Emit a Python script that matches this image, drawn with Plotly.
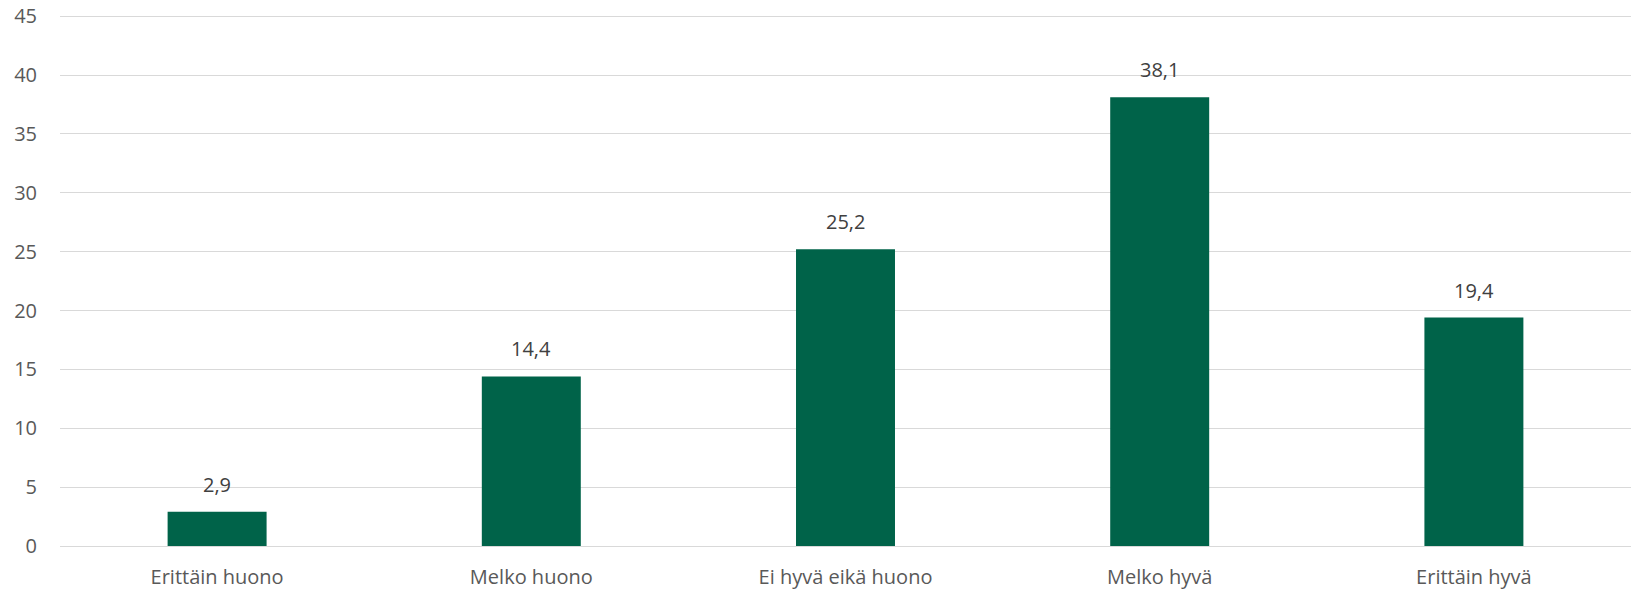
import plotly.graph_objects as go

categories = ["Erittäin huono", "Melko huono", "Ei hyvä eikä huono", "Melko hyvä", "Erittäin hyvä"]
values = [2.9, 14.4, 25.2, 38.1, 19.4]
y_ticks = [0, 5, 10, 15, 20, 25, 30, 35, 40, 45]

BAR = "#006349"
TXT = "#595959"
FONT = "Open Sans"
FS = 20

fig = go.Figure()
fig.add_trace(go.Bar(
    x=categories, y=values,
    marker=dict(color=BAR, line=dict(width=0)),
    width=0.315,
    cliponaxis=False,
))
for c, v in zip(categories, values):
    fig.add_annotation(x=c, y=v, text=f"{v:.1f}".replace(".", ","), showarrow=False,
                       yanchor="bottom", yshift=12,
                       font=dict(family=FONT, size=FS, color="#404040"))
fig.update_layout(
    width=1634, height=591,
    margin=dict(l=60, r=3, t=12, b=45),
    plot_bgcolor="white", paper_bgcolor="white",
    separators=", ",
    showlegend=False,
    font=dict(family=FONT, size=FS, color=TXT),
    xaxis=dict(showgrid=False, showline=False, ticks="", automargin=False,
               ticklabelstandoff=17, tickfont=dict(size=FS, color=TXT)),
    yaxis=dict(range=[0, 45.35], tickvals=y_ticks, showgrid=True, gridcolor="#d9d9d9", gridwidth=1.3,
               zeroline=True, zerolinecolor="#d9d9d9", zerolinewidth=1.3, automargin=False,
               ticks="", ticklabelstandoff=22, tickfont=dict(size=FS, color=TXT)),
)
fig.write_html("out.html", config={"displayModeBar": False},
               post_script="document.body.style.margin='0';document.body.style.overflow='hidden';")
